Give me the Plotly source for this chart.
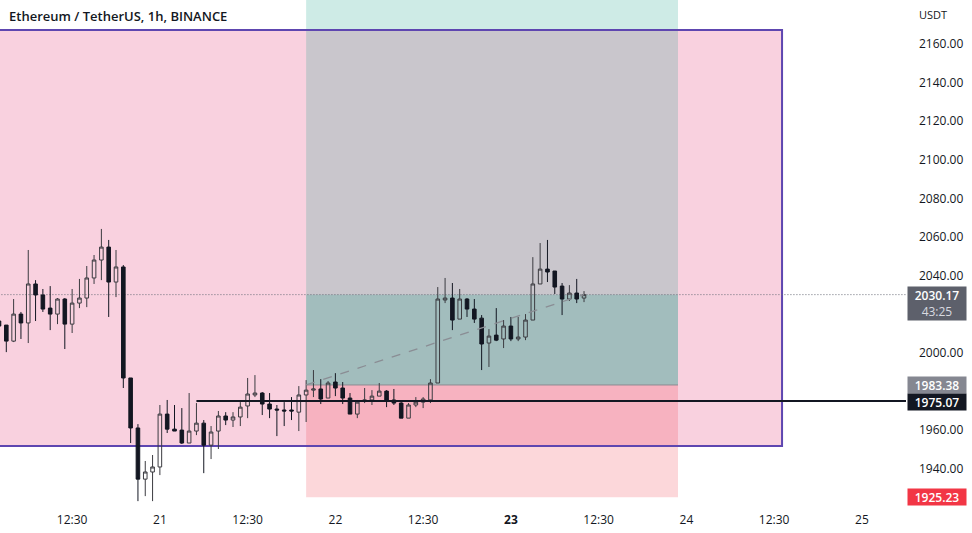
import plotly.graph_objects as go
import pandas as pd
from datetime import timedelta

# ---- data (hourly candles, ETH/USDT) ----
start_time = "2023-05-20 02:30"
opens = [2016.5, 2014.4, 2006.1, 2020.1, 2015.5, 2035.7, 2030.0, 2023.2, 2020.1, 2027.9,
         2014.9, 2025.8, 2028.4, 2038.8, 2048.1, 2054.8, 2036.7, 2044.5, 1987.0, 1961.1,
         1934.6, 1938.3, 1940.9, 1968.3, 1960.5, 1960.0, 1953.3, 1959.5, 1963.6, 1952.2,
         1959.5, 1967.3, 1965.2, 1966.8, 1972.5, 1978.2, 1979.2, 1973.5, 1970.9, 1970.4,
         1970.4, 1969.3, 1978.2, 1980.7, 1981.3, 1976.6, 1984.9, 1981.8, 1976.6, 1968.3,
         1975.0, 1975.6, 1977.6, 1980.2, 1975.6, 1974.0, 1966.2, 1973.0, 1974.5, 1975.6,
         1984.4, 2027.4, 2028.4, 2017.5, 2027.9, 2022.7, 2018.0, 2005.1, 2009.2, 2007.2,
         2013.9, 2007.2, 2008.2, 2017.0, 2035.7, 2043.4, 2042.4, 2034.6, 2027.9, 2031.0,
         2028.4]
highs = [2017.5, 2014.4, 2027.9, 2021.2, 2053.3, 2037.7, 2033.1, 2034.6, 2028.4, 2028.4,
         2033.1, 2038.3, 2045.0, 2050.7, 2064.2, 2058.5, 2053.3, 2045.5, 1987.0, 1963.1,
         1944.0, 1947.1, 1973.0, 1975.6, 1973.0, 1971.4, 1979.2, 1974.0, 1965.2, 1962.1,
         1969.9, 1969.3, 1969.3, 1974.5, 1987.0, 1988.5, 1979.7, 1979.2, 1973.0, 1974.5,
         1977.1, 1982.8, 1985.9, 1991.1, 1986.4, 1985.4, 1989.5, 1984.9, 1979.2, 1975.6,
         1981.8, 1980.7, 1984.4, 1980.7, 1981.3, 1974.5, 1974.0, 1977.1, 1977.1, 1986.4,
         2034.1, 2038.8, 2036.2, 2033.1, 2028.4, 2027.9, 2019.6, 2012.3, 2023.2, 2017.0,
         2018.6, 2018.6, 2020.1, 2049.6, 2056.9, 2058.5, 2042.4, 2036.2, 2035.1, 2038.3,
         2032.0]
lows = [2012.9, 2000.4, 2005.6, 2007.2, 2005.1, 2016.5, 2021.2, 2011.8, 2014.9, 2002.0,
        2010.3, 2023.2, 2023.7, 2035.7, 2037.7, 2018.6, 2028.9, 1981.8, 1953.3, 1923.2,
        1925.8, 1923.2, 1936.7, 1958.5, 1959.5, 1952.8, 1953.3, 1957.4, 1937.7, 1945.0,
        1950.2, 1962.6, 1961.6, 1962.1, 1966.2, 1977.1, 1967.8, 1966.2, 1956.9, 1962.1,
        1965.2, 1959.5, 1964.2, 1977.1, 1973.5, 1976.6, 1977.6, 1973.5, 1968.3, 1966.2,
        1974.0, 1973.0, 1977.6, 1971.9, 1973.0, 1966.2, 1966.2, 1971.9, 1971.4, 1974.0,
        1984.4, 2025.8, 2011.8, 2017.5, 2018.6, 2015.5, 1991.1, 1992.7, 2006.1, 2002.5,
        2006.1, 2006.1, 2006.6, 2017.0, 2035.7, 2036.7, 2030.5, 2019.6, 2026.9, 2025.8,
        2026.3]
closes = [2013.9, 2006.1, 2020.1, 2015.5, 2035.7, 2030.0, 2022.7, 2020.1, 2027.9, 2014.9,
          2025.8, 2028.4, 2038.8, 2048.1, 2054.8, 2036.7, 2044.5, 1987.0, 1961.1, 1934.6,
          1938.3, 1940.9, 1968.3, 1960.5, 1959.5, 1953.3, 1959.5, 1963.6, 1952.2, 1959.0,
          1967.3, 1965.2, 1966.8, 1971.9, 1978.7, 1979.2, 1973.5, 1970.9, 1970.4, 1969.9,
          1969.9, 1978.2, 1980.7, 1981.3, 1976.1, 1984.4, 1981.8, 1976.6, 1968.3, 1974.5,
          1975.6, 1977.6, 1980.2, 1975.6, 1974.0, 1966.2, 1973.0, 1974.5, 1976.1, 1984.4,
          2027.9, 2028.4, 2017.0, 2027.9, 2022.7, 2017.5, 2004.6, 2008.7, 2006.6, 2013.9,
          2007.2, 2008.2, 2017.0, 2035.7, 2043.4, 2041.9, 2034.1, 2027.9, 2031.0, 2027.9,
          2030.17]

# drawings / levels
last_price = 2030.17
countdown = "43:25"
entry_price = 1983.38
stop_price = 1925.23
hline_price = 1975.07
rect_top, rect_bottom = 2167.3, 1951.7

x_tick_times = ["2023-05-20 12:30", "2023-05-21 00:30", "2023-05-21 12:30", "2023-05-22 00:30",
                "2023-05-22 12:30", "2023-05-23 00:30", "2023-05-23 12:30", "2023-05-24 00:30",
                "2023-05-24 12:30", "2023-05-25 00:30"]
x_tick_text = ["12:30", "21", "12:30", "22", "12:30", "<b>23</b>", "12:30", "24", "12:30", "25"]
# 1980 and 2020 sit under the price boxes in the reference
y_ticks = [1940, 1960, 2000, 2040, 2060, 2080, 2100, 2120, 2140, 2160]

# ---- figure ----
base = pd.Timestamp(start_time)
times = pd.date_range(base, periods=len(opens), freq="h")


def t(h):
    return base + timedelta(hours=h)


fig = go.Figure()
fig.add_trace(go.Candlestick(
    x=times, open=opens, high=highs, low=lows, close=closes,
    increasing=dict(line=dict(color="#3b3b40", width=1), fillcolor="rgba(255,255,255,0)"),
    decreasing=dict(line=dict(color="#131722", width=1), fillcolor="#131722"),
    whiskerwidth=0, showlegend=False, hoverinfo="skip",
))

shapes = []
# pink rectangle fill
shapes.append(dict(type="rect", xref="x", yref="y", x0=t(-5), x1=t(107.08),
                   y0=rect_bottom, y1=rect_top, fillcolor="#f9d1df",
                   line=dict(width=0), layer="below"))
# long position: target zone
shapes.append(dict(type="rect", xref="x", yref="y", x0=t(42), x1=t(92.85),
                   y0=entry_price, y1=2250, fillcolor="rgba(8,153,129,0.2)",
                   line=dict(width=0), layer="below"))
# progress zone
shapes.append(dict(type="rect", xref="x", yref="y", x0=t(42), x1=t(92.85),
                   y0=entry_price, y1=last_price, fillcolor="rgba(8,153,129,0.2)",
                   line=dict(width=0), layer="below"))
# stop zone
shapes.append(dict(type="rect", xref="x", yref="y", x0=t(42), x1=t(92.85),
                   y0=stop_price, y1=entry_price, fillcolor="rgba(242,54,69,0.2)",
                   line=dict(width=0), layer="below"))
# entry line
shapes.append(dict(type="line", xref="x", yref="y", x0=t(42), x1=t(92.85),
                   y0=entry_price, y1=entry_price, line=dict(color="#8c8a90", width=1),
                   layer="below"))
# rectangle border
shapes.append(dict(type="rect", xref="x", yref="y", x0=t(-5), x1=t(107.08),
                   y0=rect_bottom, y1=rect_top, fillcolor="rgba(0,0,0,0)",
                   line=dict(color="#5e46b0", width=2), layer="below"))
# current price dotted line
shapes.append(dict(type="line", xref="x", yref="y", x0=t(-5), x1=t(130),
                   y0=last_price, y1=last_price, line=dict(color="#6a6d78", width=1, dash="1px,2px"),
                   layer="below"))
# horizontal ray
shapes.append(dict(type="line", xref="x", yref="y", x0=t(27), x1=t(130),
                   y0=hline_price, y1=hline_price, line=dict(color="#131722", width=2),
                   layer="above"))
# dashed trend line entry -> current
shapes.append(dict(type="line", xref="x", yref="y", x0=t(42), x1=t(80),
                   y0=entry_price, y1=last_price, line=dict(color="#8a8d94", width=1.3, dash="dash"),
                   layer="above"))

font_main = "Open Sans, Noto Sans, sans-serif"
annotations = [
    dict(text="Ethereum / TetherUS, 1h, BINANCE", xref="paper", yref="paper", x=0, y=1,
         xanchor="left", yanchor="middle", xshift=7, yshift=-16, showarrow=False,
         font=dict(family=font_main, size=13, color="#131722", weight=600)),
    dict(text="USDT", xref="paper", yref="paper", x=1, y=1, xanchor="left", yanchor="middle",
         xshift=11, yshift=-14, showarrow=False,
         font=dict(family=font_main, size=11, color="#131722")),
]


def price_label(txt, price, bg, yshift=0, yanchor="middle", height=None):
    d = dict(text=txt, xref="paper", yref="y", x=1, y=price, xanchor="left", yanchor=yanchor,
             xshift=1, yshift=yshift, showarrow=False, bgcolor=bg, width=58, align="center",
             borderpad=0, font=dict(family=font_main, size=12, color="#ffffff", weight=600))
    if height:
        d["height"] = height
    return d


annotations.append(price_label(f"{last_price:.2f}<br><span style='color:#d8dae0;font-weight:400'>{countdown}</span>",
                               last_price, "#5d606b", yshift=9, yanchor="top", height=33))
annotations.append(price_label(f"{entry_price:.2f}", entry_price, "#858791", height=16, yshift=0))
annotations.append(price_label(f"{hline_price:.2f}", hline_price, "#131722", height=16, yshift=-0.5))
annotations.append(price_label(f"{stop_price:.2f}", stop_price, "#f23645", height=16))

fig.update_layout(
    width=972, height=533,
    margin=dict(l=0, r=66, t=0, b=28),
    paper_bgcolor="#ffffff", plot_bgcolor="#ffffff",
    shapes=shapes, annotations=annotations,
    showlegend=False,
    xaxis=dict(
        range=[t(0.137), t(124.03)], rangeslider=dict(visible=False),
        showgrid=False, zeroline=False, showline=False,
        tickmode="array", tickvals=pd.to_datetime(x_tick_times), ticktext=x_tick_text,
        ticks="", tickfont=dict(family=font_main, size=12, color="#131722"),
        ticklabelstandoff=6,
    ),
    yaxis=dict(
        side="right", range=[1921.2, 2182.8], showgrid=False, zeroline=False, showline=False,
        tickmode="array", tickvals=y_ticks, ticktext=[f"{v:.2f}" for v in y_ticks],
        ticks="", ticklabelstandoff=12,
        tickfont=dict(family=font_main, size=12, color="#131722"),
    ),
)

fig.write_html("out.html", config={"displayModeBar": False},
               post_script="document.body.style.margin='0';document.body.style.overflow='hidden';")
